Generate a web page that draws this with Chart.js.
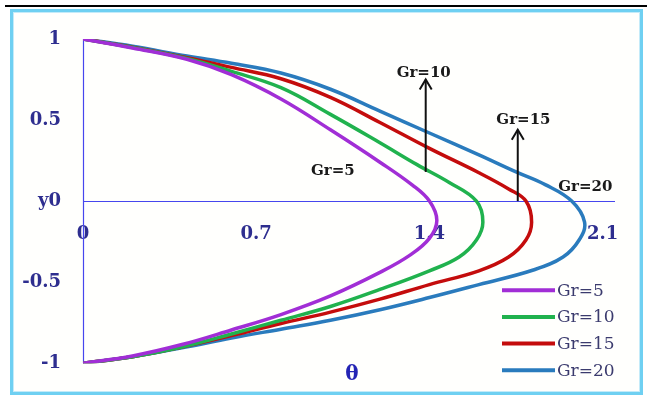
<!DOCTYPE html>
<html><head><meta charset="utf-8">
<script src="https://cdn.jsdelivr.net/npm/chart.js@4.4.0/dist/chart.umd.min.js"></script>
<style>
html,body{margin:0;padding:0;background:#fff;width:647px;height:396px;overflow:hidden;}
#topline{position:absolute;left:5px;top:5px;width:642px;height:2px;background:#000;}
#frame{position:absolute;left:10px;top:9px;width:627px;height:380px;border:3px solid #6fd0f2;box-shadow:inset 0 0 0 1px #c4ebf9;background:#fffffd;}
#c{position:absolute;left:0;top:0;}
</style></head><body>
<div id="topline"></div><div id="frame"></div>
<canvas id="c" width="647" height="396"></canvas>
<script>
// ---- data ----
const seriesLabels = ['Gr=5', 'Gr=10', 'Gr=15', 'Gr=20'];
const xTickValues = [0, 0.7, 1.4, 2.1];
const yTickValues = [-1, -0.5, 0, 0.5, 1];

const gr5Theta = [0, 0.2, 0.42, 0.6, 0.8, 1.0, 1.2, 1.33, 1.40, 1.43, 1.40, 1.32, 1.2, 1.0, 0.8, 0.6, 0.4, 0.2, 0];
const gr5Y     = [1, 0.945, 0.875, 0.78, 0.63, 0.44, 0.24, 0.10, 0.0, -0.12, -0.23, -0.335, -0.44, -0.585, -0.70, -0.795, -0.885, -0.955, -1];

const gr10Theta = [0, 0.2, 0.42, 0.6, 0.8, 1.0, 1.2, 1.35, 1.48, 1.59, 1.616, 1.59, 1.52, 1.4, 1.2, 1.0, 0.8, 0.6, 0.4, 0.2, 0];
const gr10Y     = [1, 0.947, 0.88, 0.80, 0.70, 0.535, 0.36, 0.225, 0.115, 0.0, -0.13, -0.24, -0.345, -0.43, -0.545, -0.65, -0.735, -0.82, -0.9, -0.96, -1];

const gr15Theta = [0, 0.2, 0.42, 0.6, 0.8, 1.0, 1.2, 1.4, 1.6, 1.72, 1.79, 1.813, 1.79, 1.72, 1.6, 1.4, 1.2, 1.0, 0.8, 0.6, 0.4, 0.2, 0];
const gr15Y     = [1, 0.95, 0.885, 0.825, 0.755, 0.64, 0.485, 0.325, 0.175, 0.075, 0.0, -0.13, -0.24, -0.345, -0.43, -0.515, -0.605, -0.685, -0.755, -0.83, -0.9, -0.96, -1];

const gr20Theta = [0, 0.2, 0.42, 0.6, 0.8, 1.0, 1.2, 1.4, 1.6, 1.75, 1.87, 1.975, 2.027, 2.005, 1.94, 1.82, 1.6, 1.4, 1.2, 1.0, 0.8, 0.6, 0.4, 0.2, 0];
const gr20Y     = [1, 0.955, 0.895, 0.85, 0.79, 0.69, 0.555, 0.42, 0.285, 0.18, 0.10, 0.0, -0.13, -0.24, -0.345, -0.425, -0.515, -0.595, -0.67, -0.735, -0.79, -0.845, -0.905, -0.96, -1];

const seriesColors = ['#a12ed6', '#20b24e', '#c40c0c', '#2a7bbd'];
const seriesTheta = [gr5Theta, gr10Theta, gr15Theta, gr20Theta];
const seriesY = [gr5Y, gr10Y, gr15Y, gr20Y];

// ---- plugin: axis lines, labels, arrows, axis title, legend ----
const extras = {
  id: 'extras',
  beforeDatasetsDraw(chart) {
    const ctx = chart.ctx, xs = chart.scales.x, ys = chart.scales.y, ca = chart.chartArea;
    ctx.save();
    ctx.strokeStyle = '#4646ee'; ctx.lineWidth = 1.2;
    const y0 = Math.round(ys.getPixelForValue(0)) + 0.5;
    const x0 = Math.round(xs.getPixelForValue(0)) + 0.5;
    ctx.beginPath(); ctx.moveTo(ca.left, y0); ctx.lineTo(ca.right, y0); ctx.stroke();
    ctx.beginPath(); ctx.moveTo(x0, ca.top); ctx.lineTo(x0, ca.bottom); ctx.stroke();
    ctx.restore();
  },
  afterDatasetsDraw(chart, args, opts) {
    const ctx = chart.ctx, xs = chart.scales.x, ys = chart.scales.y, ca = chart.chartArea;
    ctx.save();
    // arrows
    ctx.strokeStyle = '#111'; ctx.lineWidth = 2;
    opts.arrows.forEach(a => {
      const px = xs.getPixelForValue(a.x), p0 = ys.getPixelForValue(a.from), p1 = ys.getPixelForValue(a.to);
      ctx.beginPath(); ctx.moveTo(px, p0); ctx.lineTo(px, p1); ctx.stroke();
      ctx.beginPath(); ctx.moveTo(px - 6, p1 + 10); ctx.lineTo(px, p1); ctx.lineTo(px + 6, p1 + 10); ctx.stroke();
    });
    // labels
    ctx.fillStyle = '#1a1a1a'; ctx.font = 'bold 15px "DejaVu Serif"';
    ctx.textAlign = 'center'; ctx.textBaseline = 'middle';
    opts.labels.forEach(l => ctx.fillText(l.text, xs.getPixelForValue(l.x), ys.getPixelForValue(l.y)));
    // x axis title
    ctx.fillStyle = '#2424b4'; ctx.font = 'bold 20px "DejaVu Serif"';
    ctx.fillText(opts.xTitle, xs.getPixelForValue(opts.xTitleAt), ca.bottom + 12);
    // legend
    ctx.font = '17px "DejaVu Serif"'; ctx.textAlign = 'left';
    chart.data.datasets.forEach((ds, i) => {
      const yy = ca.bottom - 73 + i * 26.7;
      ctx.strokeStyle = ds.borderColor; ctx.lineWidth = 4;
      ctx.beginPath(); ctx.moveTo(502, yy); ctx.lineTo(555, yy); ctx.stroke();
      ctx.fillStyle = '#3b3b6e';
      ctx.fillText(ds.label, 557, yy + 1);
    });
    ctx.restore();
  }
};

const tickFont = {family: '"DejaVu Serif"', size: 18, weight: 'bold'};

new Chart(document.getElementById('c'), {
  type: 'scatter',
  data: {
    datasets: seriesLabels.map((lab, i) => ({
      label: lab,
      data: seriesTheta[i].map((t, k) => ({x: t, y: seriesY[i][k]})),
      showLine: true,
      borderColor: seriesColors[i],
      backgroundColor: seriesColors[i],
      borderWidth: 3.5,
      pointRadius: 0,
      tension: 0.4,
      fill: false
    }))
  },
  options: {
    responsive: false,
    animation: false,
    layout: {padding: {left: 0, top: 39, right: 32, bottom: 31}},
    plugins: {
      legend: {display: false},
      tooltip: {enabled: false},
      extras: {
        arrows: [{x: 1.385, from: 0.18, to: 0.75}, {x: 1.757, from: 0.0, to: 0.44}],
        labels: [
          {text: 'Gr=5', x: 1.01, y: 0.185},
          {text: 'Gr=10', x: 1.377, y: 0.79},
          {text: 'Gr=15', x: 1.78, y: 0.50},
          {text: 'Gr=20', x: 2.03, y: 0.086}
        ],
        xTitle: 'θ',
        xTitleAt: 1.087
      }
    },
    scales: {
      x: {
        type: 'linear', min: 0, max: 2.15,
        position: {y: 0},
        grid: {display: false, drawTicks: false},
        border: {display: false},
        afterBuildTicks: s => { s.ticks = xTickValues.map(v => ({value: v})); },
        ticks: {padding: 22, color: '#2e2e8f', font: tickFont, autoSkip: false, maxRotation: 0,
                callback: v => String(v)}
      },
      y: {
        type: 'linear', min: -1, max: 1,
        afterFit: s => { s.width = 83; },
        afterBuildTicks: s => { s.ticks = yTickValues.map(v => ({value: v})); },
        grid: {display: false, drawTicks: false},
        border: {display: false},
        ticks: {padding: 22, color: '#2e2e8f', font: tickFont,
                callback: v => (v === 0 ? 'y0' : String(v))}
      }
    }
  },
  plugins: [extras]
});
</script>
</body></html>
